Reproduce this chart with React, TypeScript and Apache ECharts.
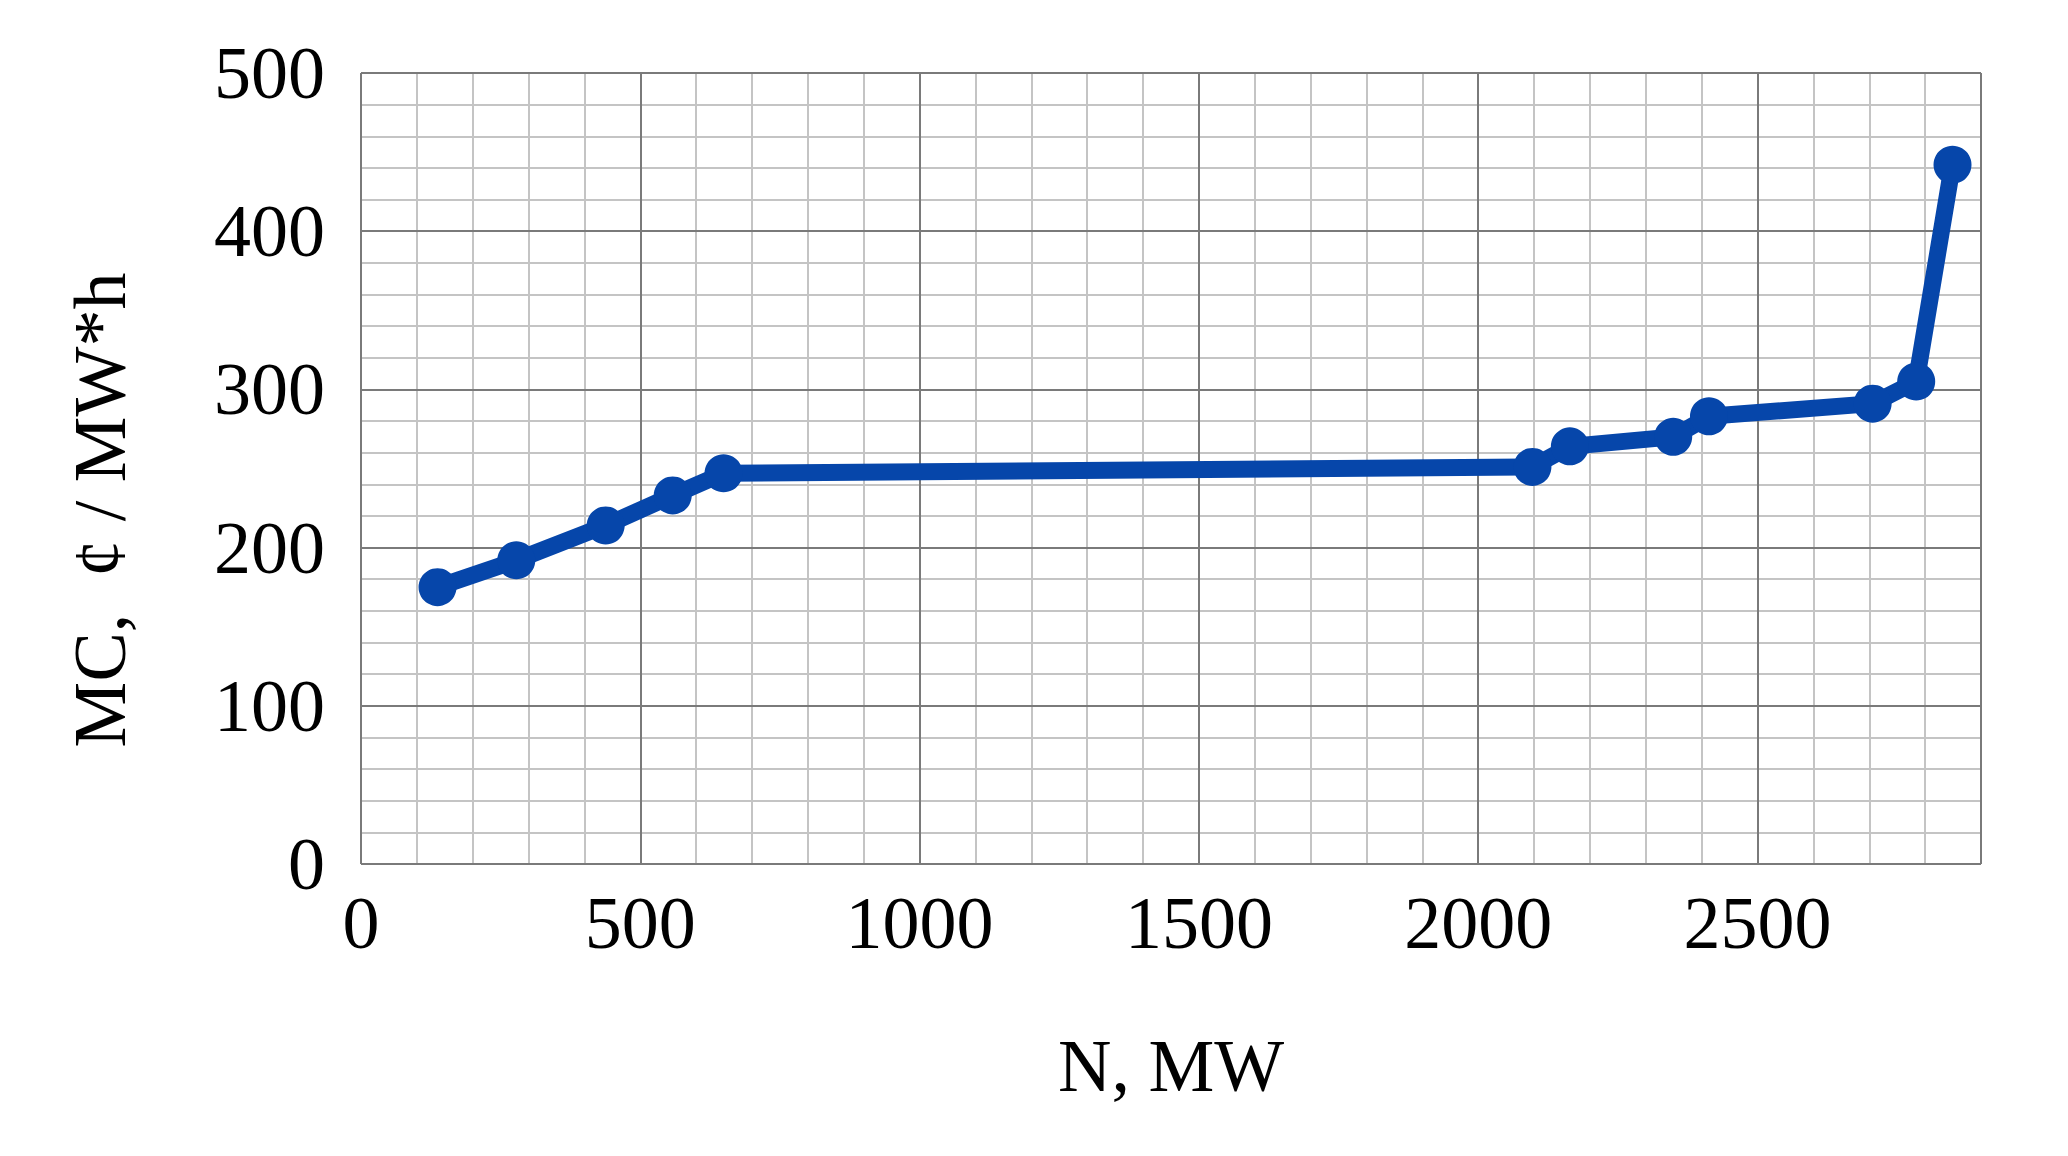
import { useEffect, useRef } from 'react';
import * as echarts from 'echarts';

// generating capacity, MW
const capacity = [137, 278, 438, 558, 649, 2097, 2164, 2349, 2413, 2706, 2784, 2849];
// marginal cost, ¢ / MW*h
const marginalCost = [175, 192, 214, 233, 247, 251, 264, 270, 283, 291, 305, 442];

const xLabels = ['0', '500', '1000', '1500', '2000', '2500'];
const yLabels = ['0', '100', '200', '300', '400', '500'];

const font = '"Liberation Serif", "Times New Roman", serif';
const blue = '#0646AA';

export default function App() {
  const chartRef = useRef<HTMLDivElement>(null);

  useEffect(() => {
    if (!chartRef.current) return;
    const chart = echarts.init(chartRef.current, undefined, { renderer: 'svg' });

    const points = capacity.map((x, i) => [x, marginalCost[i]]);

    chart.setOption({
      animation: false,
      backgroundColor: '#ffffff',
      grid: { left: 361, top: 73, right: 87, bottom: 292 },
      xAxis: [
        {
          type: 'value',
          min: 0,
          max: 2900,
          interval: 500,
          axisLine: { show: false },
          axisTick: { show: false },
          axisLabel: {
            margin: 22,
            fontFamily: font,
            fontSize: 74,
            color: '#000',
            formatter: (v: number) => xLabels[v / 500] ?? '',
          },
          splitLine: { show: true, lineStyle: { color: '#7a7a7a', width: 2 } },
          name: 'N, MW',
          nameLocation: 'middle',
          nameGap: 165,
          nameTextStyle: { fontFamily: font, fontSize: 74, color: '#000' },
          z: 2,
        },
        {
          type: 'value',
          position: 'top',
          min: 0,
          max: 2900,
          interval: 100,
          axisLine: { show: false },
          axisTick: { show: false },
          axisLabel: { show: false },
          splitLine: { show: true, lineStyle: { color: '#c4c4c4', width: 2 } },
          z: 1,
        },
      ],
      yAxis: [
        {
          type: 'value',
          min: 0,
          max: 500,
          interval: 100,
          axisLine: { show: false },
          axisTick: { show: false },
          axisLabel: {
            margin: 36,
            fontFamily: font,
            fontSize: 74,
            color: '#000',
            formatter: (v: number) => yLabels[v / 100] ?? '',
          },
          splitLine: { show: true, lineStyle: { color: '#7a7a7a', width: 2 } },
          z: 2,
        },
        {
          type: 'value',
          position: 'right',
          min: 0,
          max: 500,
          interval: 20,
          axisLine: { show: false },
          axisTick: { show: false },
          axisLabel: { show: false },
          splitLine: { show: true, lineStyle: { color: '#c4c4c4', width: 2 } },
          z: 1,
        },
      ],
      graphic: [
        {
          type: 'text',
          x: 100,
          y: 510,
          rotation: Math.PI / 2,
          style: {
            text: 'MC,  ¢ / MW*h',
            font: `74px ${font}`,
            fill: '#000',
            textAlign: 'center',
            textVerticalAlign: 'middle',
          },
        },
      ],
      series: [
        {
          type: 'line',
          xAxisIndex: 0,
          yAxisIndex: 0,
          data: points,
          symbol: 'circle',
          symbolSize: 38,
          lineStyle: { color: blue, width: 17 },
          itemStyle: { color: blue },
          z: 5,
        },
      ],
    });

    return () => {
      chart.dispose();
    };
  }, []);

  return (
    <div
      ref={chartRef}
      style={{ position: 'absolute', left: 0, top: 0, width: '2068px', height: '1156px' }}
    />
  );
}
